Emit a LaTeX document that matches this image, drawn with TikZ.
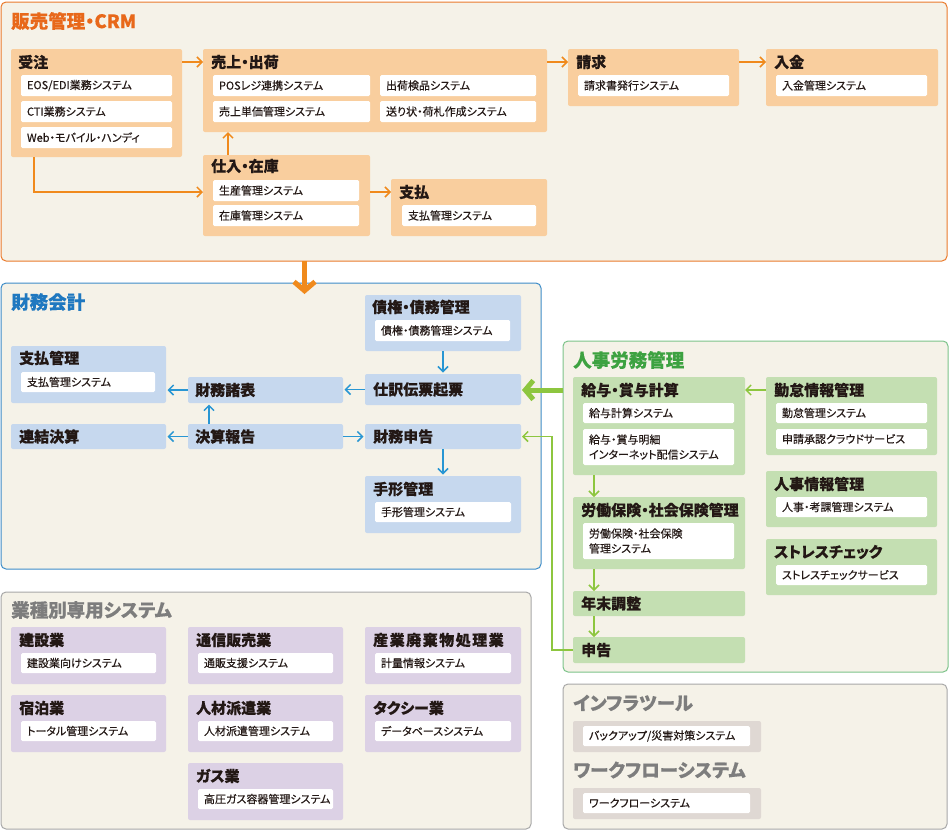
\documentclass[tikz,border=0pt]{standalone}
\usepackage{fontspec}
\newfontfamily\jp[RawFeature=+palt,BoldFeatures={FakeBold=0.3}]{Noto Sans CJK JP}
\newfontfamily\jpm[RawFeature=+palt,FakeBold=0.4]{Noto Sans CJK JP}
\usetikzlibrary{arrows.meta}
\definecolor{bg}{HTML}{F5F2E8}
\definecolor{tx}{HTML}{231815}
\definecolor{oborder}{HTML}{EA7A2C}
\definecolor{otitle}{HTML}{E8681A}
\definecolor{peach}{HTML}{F9CE9E}
\definecolor{oarrow}{HTML}{F08A1C}
\definecolor{bborder}{HTML}{3D8CC8}
\definecolor{btitle}{HTML}{1F78C0}
\definecolor{bluebox}{HTML}{C6D8EE}
\definecolor{barrow}{HTML}{2896D3}
\definecolor{gborder}{HTML}{7CC38A}
\definecolor{gtitle}{HTML}{3DA241}
\definecolor{greenbox}{HTML}{C4DFB2}
\definecolor{garrow}{HTML}{8DC63F}
\definecolor{grborder}{HTML}{A8A8A8}
\definecolor{grtitle}{HTML}{7D7D7D}
\definecolor{purplebox}{HTML}{DCD1E5}
\definecolor{graybox}{HTML}{DFD8D3}
\newcommand\mybox[6]{%
  \pgfmathsetmacro\myw{#4-#2}\pgfmathsetmacro\myh{#5-#3}%
  \node[#6,anchor=north west,inner sep=0pt,outer sep=0pt,minimum width=\myw pt,minimum height=\myh pt] (#1) at (#2,#3) {};}
\newcommand\mywb[6]{%
  \pgfmathsetmacro\myw{#4-#2-12}\pgfmathsetmacro\myh{#5-#3}%
  \node[wbox,anchor=north west,text width=\myw pt,minimum height=\myh pt] (#1) at (#2,#3) {#6};}
\tikzset{
  ttl/.style={font=\jp\bfseries\fontsize{18.5}{20}\selectfont, inner sep=0pt, anchor=west},
  hdr/.style={font=\jp\bfseries\fontsize{15}{16}\selectfont, inner sep=0pt, anchor=west, text=tx},
  wbox/.style={fill=white, rounded corners=1.5pt, inner xsep=6pt, inner ysep=0pt, outer sep=0pt, align=left, font=\jpm\fontsize{11}{15}\selectfont, text=tx},
  outerbox/.style={fill=bg, rounded corners=5pt, line width=1pt},
  obox/.style={fill=peach, rounded corners=2pt},
  bbox/.style={fill=bluebox, rounded corners=2pt},
  gbox/.style={fill=greenbox, rounded corners=2pt},
  pbox/.style={fill=purplebox, rounded corners=2pt},
  gybox/.style={fill=graybox, rounded corners=2pt},
  oarr/.style={draw=oarrow, line width=1.5pt, -{Straight Barb[length=5pt,width=10pt]}},
  barr/.style={draw=barrow, line width=1.5pt, -{Straight Barb[length=5pt,width=10pt]}, shorten >=1.5pt},
  garr/.style={draw=garrow, line width=1.5pt, -{Straight Barb[length=5pt,width=10pt]}},
  bigor/.style={draw=oarrow, line width=5pt, -{Straight Barb[length=9pt,width=21pt]}},
  biggr/.style={draw=garrow, line width=5pt, -{Straight Barb[length=8pt,width=19pt]}},
}
\begin{document}
\begin{tikzpicture}[x=1pt,y=-1pt]
\useasboundingbox (0,0) rectangle (949,833);

% ===== Sales / CRM =====
\mybox{sales}{1}{2}{947}{261}{outerbox, draw=oborder}
\node[ttl, text=otitle] (sales-t) at (11,21) {販売管理・CRM};

\mybox{juchu}{11}{49}{182}{157}{obox}
\node[hdr] (juchu-h) at (18,62) {受注};
\mywb{juchu-1}{21}{75}{172}{96}{EOS/EDI業務システム}
\mywb{juchu-2}{21}{101}{172}{122}{CTI業務システム}
\mywb{juchu-3}{21}{127}{172}{148}{Web・モバイル・ハンディ}

\mybox{uriage}{203}{49}{547}{132}{obox}
\node[hdr] (uriage-h) at (211,62) {売上・出荷};
\mywb{uriage-1}{213}{75}{370}{96}{POSレジ連携システム}
\mywb{uriage-2}{213}{101}{370}{122}{売上単価管理システム}
\mywb{uriage-3}{380}{75}{536}{96}{出荷検品システム}
\mywb{uriage-4}{380}{101}{536}{122}{送り状・荷札作成システム}

\mybox{shiire}{203}{155}{370}{236}{obox}
\node[hdr] (shiire-h) at (211,166) {仕入・在庫};
\mywb{shiire-1}{213}{180}{359}{201}{生産管理システム}
\mywb{shiire-2}{213}{205}{359}{226}{在庫管理システム}

\mybox{shiharai}{391}{179}{547}{236}{obox}
\node[hdr] (shiharai-h) at (399,192) {支払};
\mywb{shiharai-1}{402}{205}{536}{226}{支払管理システム}

\mybox{seikyu}{568}{49}{739}{106}{obox}
\node[hdr] (seikyu-h) at (576,62) {請求};
\mywb{seikyu-1}{578}{75}{729}{96}{請求書発行システム}

\mybox{nyukin}{766}{49}{938}{106}{obox}
\node[hdr] (nyukin-h) at (774,62) {入金};
\mywb{nyukin-1}{776}{75}{927}{96}{入金管理システム}

% ===== Finance =====
\mybox{fin}{1}{283}{541}{569}{outerbox, draw=bborder}
\node[ttl, text=btitle] (fin-t) at (11,302) {財務会計};

\mybox{saiken}{365}{295}{521}{351}{bbox}
\node[hdr] (saiken-h) at (372,307) {債権・債務管理};
\mywb{saiken-1}{375}{320}{510}{341}{債権・債務管理システム}

\mybox{shiwake}{365}{374}{521}{405}{bbox}
\node[hdr] (shiwake-h) at (373,389.5) {仕訳伝票起票};

\mybox{zshin}{365}{424}{521}{449}{bbox}
\node[hdr] (zshin-h) at (373,436.5) {財務申告};

\mybox{tegata}{365}{476}{521}{533}{bbox}
\node[hdr] (tegata-h) at (373,489) {手形管理};
\mywb{tegata-1}{375}{502}{511}{522}{手形管理システム}

\mybox{shohyo}{188}{377}{343}{403}{bbox}
\node[hdr] (shohyo-h) at (195,390) {財務諸表};

\mybox{kessan}{188}{424}{343}{449}{bbox}
\node[hdr] (kessan-h) at (195,436.5) {決算報告};

\mybox{fshi}{11}{346}{166}{403}{bbox}
\node[hdr] (fshi-h) at (19,358) {支払管理};
\mywb{fshi-1}{21}{372}{155}{392}{支払管理システム}

\mybox{renketsu}{11}{424}{166}{449}{bbox}
\node[hdr] (renketsu-h) at (19,436.5) {連結決算};

% ===== HR =====
\mybox{hr}{563}{341}{948}{672}{outerbox, draw=gborder}
\node[ttl, text=gtitle] (hr-t) at (573,360) {人事労務管理};

\mybox{kyuyo}{573}{377}{745}{475}{gbox}
\node[hdr] (kyuyo-h) at (581,390) {給与・賞与計算};
\mywb{kyuyo-1}{583}{403}{734}{423}{給与計算システム}
\mywb{kyuyo-2}{583}{429}{734}{465}{給与・賞与明細\\インターネット配信システム}

\mybox{kintai}{766}{377}{937}{455}{gbox}
\node[hdr] (kintai-h) at (774,390) {勤怠情報管理};
\mywb{kintai-1}{776}{403}{927}{423}{勤怠管理システム}
\mywb{kintai-2}{776}{429}{927}{449}{申請承認クラウドサービス}

\mybox{jinji}{766}{471}{937}{527}{gbox}
\node[hdr] (jinji-h) at (774,484) {人事情報管理};
\mywb{jinji-1}{776}{497}{927}{517}{人事・考課管理システム}

\mybox{stress}{766}{539}{937}{595}{gbox}
\node[hdr] (stress-h) at (774,552) {ストレスチェック};
\mywb{stress-1}{776}{565}{927}{585}{ストレスチェックサービス}

\mybox{roudou}{573}{497}{745}{569}{gbox}
\node[hdr] (roudou-h) at (581,510) {労働保険・社会保険管理};
\mywb{roudou-1}{583}{523}{734}{559}{労働保険・社会保険\\管理システム}

\mybox{nenmatsu}{573}{591}{745}{616}{gbox}
\node[hdr] (nenmatsu-h) at (581,603.5) {年末調整};

\mybox{shinkoku}{573}{637}{745}{663}{gbox}
\node[hdr] (shinkoku-h) at (581,650) {申告};

% ===== Industry =====
\mybox{ind}{1}{592}{531}{829}{outerbox, draw=grborder}
\node[ttl, text=grtitle] (ind-t) at (11,610) {業種別専用システム};

\mybox{kensetsu}{11}{627}{166}{684}{pbox}
\node[hdr] (kensetsu-h) at (19,640) {建設業};
\mywb{kensetsu-1}{21}{653}{156}{673}{建設業向けシステム}

\mybox{shukuhaku}{11}{695}{166}{752}{pbox}
\node[hdr] (shukuhaku-h) at (19,708) {宿泊業};
\mywb{shukuhaku-1}{21}{721}{156}{741}{トータル管理システム}

\mybox{tsuhan}{188}{627}{343}{684}{pbox}
\node[hdr] (tsuhan-h) at (196,640) {通信販売業};
\mywb{tsuhan-1}{198}{653}{333}{673}{通販支援システム}

\mybox{jinzai}{188}{695}{343}{752}{pbox}
\node[hdr] (jinzai-h) at (196,708) {人材派遣業};
\mywb{jinzai-1}{198}{721}{333}{741}{人材派遣管理システム}

\mybox{gas}{188}{763}{343}{820}{pbox}
\node[hdr] (gas-h) at (196,776) {ガス業};
\mywb{gas-1}{198}{789}{333}{809}{高圧ガス容器管理システム}

\mybox{sangyo}{365}{627}{521}{684}{pbox}
\node[hdr] (sangyo-h) at (373,640) {\addfontfeature{LetterSpace=10}産業廃棄物処理業};
\mywb{sangyo-1}{375}{653}{511}{673}{計量情報システム}

\mybox{taxi}{365}{695}{521}{752}{pbox}
\node[hdr] (taxi-h) at (373,708) {タクシー業};
\mywb{taxi-1}{375}{721}{511}{741}{データベースシステム}

% ===== Infra =====
\mybox{infra}{563}{684}{947}{829}{outerbox, draw=grborder}
\node[ttl, text=grtitle] (infra-t) at (573,703) {インフラツール};
\mybox{infra1}{573}{721}{761}{752}{gybox}
\mywb{infra1-1}{583}{726}{750}{746}{バックアップ/災害対策システム}
\node[ttl, text=grtitle] (wf-t) at (573,770) {ワークフローシステム};
\mybox{infra2}{573}{788}{761}{819}{gybox}
\mywb{infra2-1}{583}{793}{750}{813}{ワークフローシステム}

% ===== Connectors =====
\draw[oarr] ([yshift=-13pt]juchu.north east) -- ([yshift=-13pt]uriage.north west);
\draw[oarr] ([yshift=-13pt]uriage.north east) -- ([yshift=-13pt]seikyu.north west);
\draw[oarr] ([yshift=-13pt]seikyu.north east) -- ([yshift=-13pt]nyukin.north west);
\draw[oarr] ([xshift=25pt]shiire.north west) -- ([xshift=25pt]uriage.south west);
\draw[oarr] ([xshift=23pt]juchu.south west) |- ([yshift=3.5pt]shiire.west);
\draw[oarr] ([yshift=-37pt]shiire.north east) -- ([yshift=-13pt]shiharai.north west);

\coordinate (orTip) at (304.5,294);
\draw[bigor] (sales.south -| orTip) -- (orTip);

\draw[barr] (saiken.south) -- (shiwake.north);
\draw[barr] (shiwake.west) -- (shiwake.west -| shohyo.east);
\draw[barr] (shohyo.west) -- (shohyo.west -| fshi.east);
\draw[barr] ([xshift=21pt]kessan.north west) -- ([xshift=21pt]shohyo.south west);
\draw[barr] (kessan.west) -- (renketsu.east);
\draw[barr] (kessan.east) -- (zshin.west);
\draw[barr] (zshin.south) -- (tegata.north);

\draw[garr] ([yshift=-13pt]kintai.north west) -- ([yshift=-13pt]kyuyo.north east);
\draw[garr] ([xshift=21pt]kyuyo.south west) -- ([xshift=21pt]roudou.north west);
\draw[garr] ([xshift=21pt]roudou.south west) -- ([xshift=21pt]nenmatsu.north west);
\draw[garr] ([xshift=21pt]nenmatsu.south west) -- ([xshift=21pt]shinkoku.north west);
\coordinate (gcorner) at (552,650);
\draw[garr] (shinkoku.west) -- (gcorner) |- ([xshift=1pt]zshin.east);
\draw[biggr] ([yshift=-49pt]hr.north west) -- ([yshift=-49pt,xshift=1pt]hr.north west -| shiwake.east);
\end{tikzpicture}
\end{document}
